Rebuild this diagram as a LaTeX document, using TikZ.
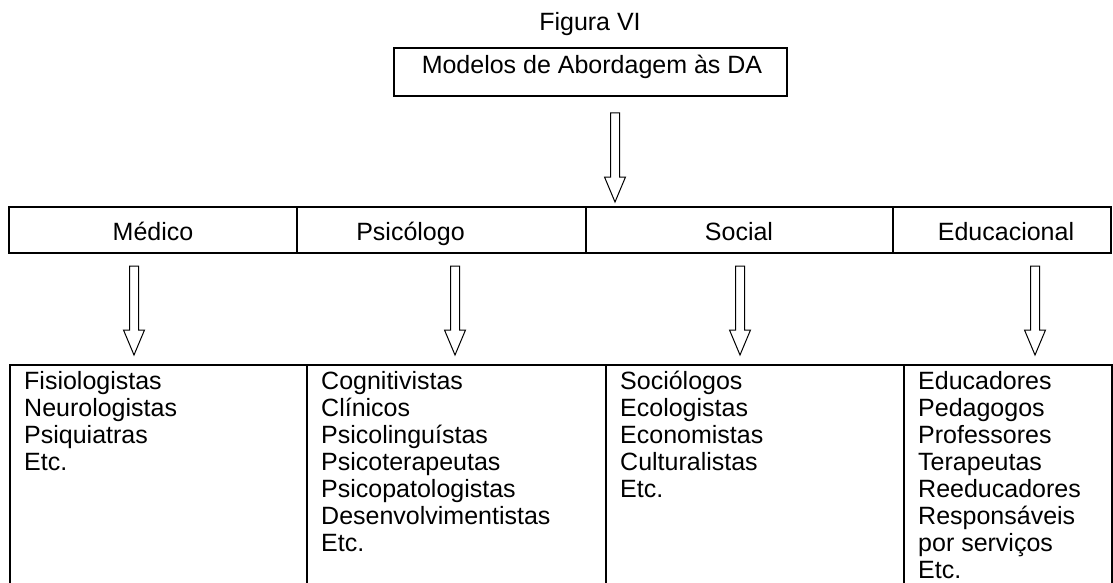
\documentclass[tikz,border=0pt]{standalone}
\usepackage{fontspec}
\setmainfont{Liberation Sans}
\usetikzlibrary{positioning,calc}

% hollow block arrow between two named coordinates
\newcommand{\hollowarrow}[2]{%
  \draw[blk] let \p1=(#1), \p2=(#2) in
    (\x1-4.5pt,\y1) -- (\x1+4.5pt,\y1) -- (\x1+4.5pt,\y2+25pt) --
    (\x1+10.5pt,\y2+25pt) -- (\x2,\y2) -- (\x1-10.5pt,\y2+25pt) --
    (\x1-4.5pt,\y2+25pt) -- cycle;}

\begin{document}
\begin{tikzpicture}[
  x=1pt,y=-1pt,
  font=\fontsize{25}{27}\selectfont,
  box/.style={draw,line width=2pt,inner sep=0pt},
  cell/.style={box,minimum height=46pt},
  col/.style={box,anchor=north west,minimum height=236pt},
  txt/.style={anchor=base,inner sep=0pt},
  list/.style={align=left,inner sep=0pt},
  blk/.style={line width=1pt}]
\useasboundingbox (0,0) rectangle (1113,583);
\clip (0,0) rectangle (1113,583);
% title and top box
\node[txt] (title) at (590,31) {Figura VI};
\node[box,minimum width=393pt,minimum height=48pt] (top) at (590.5,72) {};
\node[txt] (toptxt) at (592,74) {Modelos de Abordagem às DA};
% row of models
\node[cell,minimum width=288pt] (c1) at (153,230) {};
\node[cell,minimum width=289pt] (c2) at (441.5,230) {};
\node[cell,minimum width=307pt] (c3) at (739.5,230) {};
\node[cell,minimum width=218pt] (c4) at (1002,230) {};
\node[txt] at (153,240) {Médico};
\node[txt] at (410.5,240) {Psicólogo};
\node[txt] at (739,240) {Social};
\node[txt] at (1006,240) {Educacional};
% columns of professionals
\node[col,minimum width=297pt] (b1) at (9,364) {};
\node[col,minimum width=299pt] (b2) at (306,364) {};
\node[col,minimum width=298pt] (b3) at (605,364) {};
\node[col,minimum width=208pt] (b4) at (903,364) {};
\node[list,below right=7pt and 15pt of b1.north west] (l1)
  {Fisiologistas\\Neurologistas\\Psiquiatras\\Etc.};
\node[list,below right=7pt and 15pt of b2.north west] (l2)
  {Cognitivistas\\Clínicos\\Psicolinguístas\\Psicoterapeutas\\Psicopatologistas\\Desenvolvimentistas\\Etc.};
\node[list,below right=7pt and 15pt of b3.north west] (l3)
  {Sociólogos\\Ecologistas\\Economistas\\Culturalistas\\Etc.};
\node[list,below right=7pt and 15pt of b4.north west] (l4)
  {Educadores\\Pedagogos\\Professores\\Terapeutas\\Reeducadores\\Responsáveis\\por serviços\\Etc.};
% arrows
\coordinate (s0) at (615,113);  \coordinate (e0) at (615,202);
\coordinate (s1) at (134,266);  \coordinate (e1) at (134,355);
\coordinate (s2) at (455,266);  \coordinate (e2) at (455,355);
\coordinate (s3) at (740,266);  \coordinate (e3) at (740,355);
\coordinate (s4) at (1035,266); \coordinate (e4) at (1035,355);
\hollowarrow{s0}{e0}
\hollowarrow{s1}{e1} \hollowarrow{s2}{e2}
\hollowarrow{s3}{e3} \hollowarrow{s4}{e4}
\end{tikzpicture}
\end{document}
